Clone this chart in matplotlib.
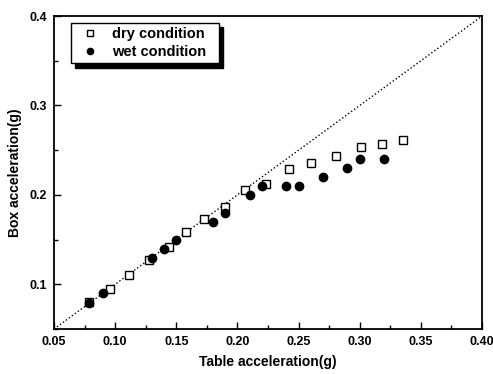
import numpy as np
import matplotlib
matplotlib.use("Agg")
import matplotlib.pyplot as plt
from matplotlib.ticker import MultipleLocator, FormatStrFormatter

plt.rcParams['font.family'] = ['Liberation Sans', 'DejaVu Sans']

# dry condition
dry_x = [0.079, 0.096, 0.111, 0.128, 0.144, 0.158, 0.173, 0.19, 0.206, 0.223,
         0.242, 0.26, 0.281, 0.301, 0.318, 0.335]
dry_y = [0.080, 0.095, 0.110, 0.127, 0.142, 0.158, 0.173, 0.186, 0.205, 0.212,
         0.229, 0.236, 0.244, 0.254, 0.257, 0.261]

# wet condition
wet_x = [0.079, 0.09, 0.13, 0.14, 0.15, 0.18, 0.19, 0.21, 0.22, 0.24,
         0.25, 0.27, 0.29, 0.30, 0.32]
wet_y = [0.079, 0.09, 0.129, 0.139, 0.15, 0.17, 0.18, 0.20, 0.21, 0.21,
         0.21, 0.22, 0.23, 0.24, 0.24]

fig = plt.figure(figsize=(4.93, 3.74), dpi=100)
ax = fig.add_axes([0.1095, 0.1203, 0.8682, 0.8367])

ax.plot([0.05, 0.4], [0.05, 0.4], ':', color='black', lw=1.0)
ax.plot(dry_x, dry_y, 's', ms=5.5, mfc='white', mec='black', mew=1.0,
        label='dry condition  ')
ax.plot(wet_x, wet_y, 'o', ms=6, mfc='black', mec='black',
        label='wet condition  ')

ax.set_xlim(0.05, 0.4)
ax.set_ylim(0.05, 0.4)
ax.xaxis.set_major_locator(MultipleLocator(0.05))
ax.xaxis.set_minor_locator(MultipleLocator(0.025))
ax.yaxis.set_major_locator(MultipleLocator(0.1))
ax.yaxis.set_minor_locator(MultipleLocator(0.05))
ax.xaxis.set_major_formatter(FormatStrFormatter('%.2f'))
ax.yaxis.set_major_formatter(FormatStrFormatter('%.1f'))
ax.tick_params(which='both', direction='in', top=False, right=False)
ax.tick_params(which='major', length=5, width=1, labelsize=9, pad=5)
ax.tick_params(which='minor', length=3, width=1)
for lab in ax.get_xticklabels() + ax.get_yticklabels():
    lab.set_fontweight('bold')
for s in ax.spines.values():
    s.set_linewidth(1.3)

ax.set_xlabel('Table acceleration(g)', fontsize=10, fontweight='bold', labelpad=5)
ax.set_ylabel('Box acceleration(g)', fontsize=10, fontweight='bold', labelpad=5)

leg = ax.legend(loc='upper left', bbox_to_anchor=(0.04, 0.978), frameon=True,
                fancybox=False, edgecolor='black', framealpha=1,
                shadow={'color': 'black', 'ox': 3, 'oy': -3, 'alpha': 1},
                prop={'weight': 'bold', 'size': 10.5}, handletextpad=0.5,
                borderpad=0.3, labelspacing=0.25, handlelength=2.0,
                markerscale=0.75, borderaxespad=0)
leg.get_frame().set_linewidth(1.0)

fig.savefig('out.png', dpi=100)
